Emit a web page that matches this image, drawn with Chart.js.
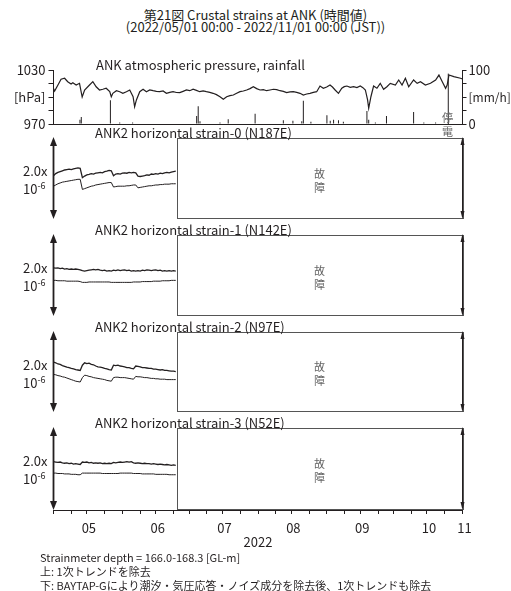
<!DOCTYPE html>
<html><head><meta charset="utf-8">
<script src="https://cdn.jsdelivr.net/npm/chart.js@4.4.1/dist/chart.umd.min.js"></script>
<style>
html,body{margin:0;padding:0;background:#fff;}
body{width:511px;height:591px;position:relative;overflow:hidden;font-family:"Noto Sans CJK JP","Noto Sans",sans-serif;color:#231f20;}
canvas{position:absolute;left:0;}
.t{position:absolute;white-space:nowrap;line-height:1;transform:translateY(-50%);z-index:5;}
.g{color:#666;font-size:11px;}
</style></head><body>
<div class="t" style="left:0;width:511px;text-align:center;top:21px;font-size:13px;line-height:12px;">第21図 Crustal strains at ANK (時間値)<br>(2022/05/01 00:00 - 2022/11/01 00:00 (JST))</div>
<div class="t" style="left:96px;top:64px;font-size:13px;">ANK atmospheric pressure, rainfall</div>
<div class="t g" style="left:442px;top:117px;">停</div>
<div class="t g" style="left:442px;top:131px;">電</div>
<div class="t" style="left:40px;top:557px;font-size:11px;">Strainmeter depth = 166.0-168.3 [GL-m]</div>
<div class="t" style="left:40px;top:571px;font-size:11px;">上: 1次トレンドを除去</div>
<div class="t" style="left:40px;top:585px;font-size:11px;">下: BAYTAP-Gにより潮汐・気圧応答・ノイズ成分を除去後、1次トレンドも除去</div>
<canvas id="cP" width="511" height="80" style="top:55px"></canvas>
<script>
// ---------------- data ----------------
// atmospheric pressure [day since 2022/05/01, hPa]
const pressureReadings = [[0,1009.5],[0.5,1006.5],[2,1013.3],[3.4,1019.7],[5,1020.8],[6.4,1017],[7.9,1014.4],[8.7,1015.9],[10.2,1013.3],[11.7,1015.2],[12.9,1000],[14,1007.8],[16.2,1013.3],[17.7,1017],[19.2,1011.4],[20.7,1007.8],[22.2,1008.6],[23.7,1009.7],[25.3,1005.9],[26,1000.3],[26.7,1004.1],[28.3,1007],[29.8,1005.9],[31.2,1004.1],[32.8,1005.9],[34.3,1007.8],[35.8,1000.3],[36.5,989.2],[37.3,996.7],[38.8,1005.9],[40.3,1008.6],[41.8,1005.9],[43.3,1007.8],[44.8,1007],[46.3,1006.3],[47.8,1005.9],[49.3,1006.7],[50.8,1004.1],[52.3,1005.2],[53.8,1005.9],[55.3,1005],[56.8,1004.8],[58.3,1006.3],[59.8,1007.8],[61.3,1007],[62.8,1008.6],[64.3,1007.4],[65.8,1005.9],[67.3,1006.7],[68.8,1005.9],[70.3,1005.2],[71.8,1004.1],[73.3,1002.6],[74.9,1000.3],[76.4,997.4],[77.9,1000.3],[79.4,1001.5],[80.9,1002.2],[82.4,1004.1],[83.9,1005.9],[85.4,1006.7],[86.9,1007.8],[88.4,1009.3],[89.9,1011.4],[91.4,1009.3],[92.9,1007.8],[94.4,1008.2],[95.9,1007],[97.4,1007.8],[98.9,1008.6],[100.4,1008.2],[101.9,1007],[103.4,1006.3],[104.9,1004.8],[106.4,1005.6],[107.9,1005.9],[109.4,1005.2],[110.9,1004.1],[112.4,1002.2],[113.9,1003.3],[115.4,1004.1],[116.9,1005.2],[118.4,1005.9],[119.9,1012.2],[121.4,1009.7],[122.9,1011.1],[124.4,1013.3],[125.5,1011.1],[126.7,1007.8],[128.2,1004.1],[129.7,1009.7],[130.8,1011.5],[132,1012.2],[133.5,1010.7],[135,1011.4],[136.5,1010.4],[138,1012.2],[139.2,1010.4],[140.3,1007.8],[141.3,996.7],[141.8,987.4],[142.8,1000.3],[144,1012.2],[145.5,1009.7],[147,1015.2],[148.5,1008.6],[150,1011.4],[151.5,1015.2],[153.8,1013.3],[155.3,1018.9],[156.8,1013.3],[158.3,1020.8],[159.8,1011.4],[162,1018.9],[163.6,1015.2],[165.1,1017],[167.3,1013.3],[169.6,1015.2],[171.9,1018.9],[173.4,1024.4],[174.9,1017],[176.4,1009.7],[177.1,1013.3],[177.9,1024.4],[180.1,1022.6],[183.1,1020.8],[184,1020]];
// hourly rainfall [day, mm/h]
const rainReadings = [[11.9,8],[12.5,13],[25.6,44],[29.8,3],[35.6,3],[64.4,15],[65.1,33],[65.9,5],[74.9,3],[78.6,9],[90.7,19],[103.4,7],[107.7,6],[111.7,5],[112.4,43],[115.8,4],[123,16],[124.5,6],[126,8],[128.2,7],[130.4,4],[141,24],[141.8,8],[144.8,3],[149.8,15],[162,22],[166.6,3],[171.9,3]];
const outageDay = 177.6;           // 停電
const outageTopHPa = 1026;
const pressureTicks = [970, 985, 1000, 1015, 1030];
const pressureTickLabels = ['970', '', '[hPa]', '', '1030'];
const rainTicks = [0, 25, 50, 75, 100];
const rainTickLabels = ['0', '', '[mm/h]', '', '100'];

// strain panels (units of 1e-6, daily from 2022/05/01)
const panelTitles = ['ANK2 horizontal strain-0 (N187E)', 'ANK2 horizontal strain-1 (N142E)', 'ANK2 horizontal strain-2 (N97E)', 'ANK2 horizontal strain-3 (N52E)'];
const strain0Upper = [0.07,0.12,0.15,0.17,0.19,0.21,0.22,0.23,0.22,0.24,0.25,0.26,0.25,0.02,0.06,0.09,0.10,0.12,0.11,0.13,0.14,0.15,0.14,0.17,0.18,0.20,0.19,0.07,0.11,0.12,0.11,0.13,0.14,0.13,0.15,0.14,0.15,0.14,0.06,0.05,0.06,0.07,0.09,0.08,0.11,0.10,0.12,0.11,0.13,0.12,0.14,0.15,0.14,0.16,0.17,0.18];
const strain0Lower = [-0.19,-0.16,-0.13,-0.11,-0.09,-0.08,-0.07,-0.06,-0.05,-0.04,-0.03,-0.02,-0.02,-0.27,-0.25,-0.23,-0.21,-0.19,-0.18,-0.16,-0.15,-0.14,-0.13,-0.12,-0.11,-0.10,-0.10,-0.21,-0.20,-0.19,-0.19,-0.19,-0.19,-0.18,-0.18,-0.17,-0.16,-0.16,-0.23,-0.22,-0.21,-0.20,-0.19,-0.18,-0.18,-0.17,-0.16,-0.16,-0.15,-0.15,-0.14,-0.14,-0.14,-0.13,-0.13,-0.13];
const strain1Upper = [0.19,0.18,0.19,0.17,0.18,0.16,0.17,0.15,0.16,0.15,0.16,0.15,0.14,0.12,0.11,0.12,0.13,0.14,0.15,0.14,0.15,0.13,0.12,0.13,0.11,0.12,0.11,0.13,0.12,0.14,0.12,0.13,0.14,0.12,0.13,0.11,0.12,0.11,0.12,0.11,0.13,0.12,0.14,0.13,0.12,0.13,0.14,0.12,0.13,0.11,0.12,0.11,0.12,0.11,0.12,0.11];
const strain1Lower = [-0.12,-0.12,-0.13,-0.13,-0.13,-0.13,-0.14,-0.14,-0.14,-0.14,-0.14,-0.14,-0.15,-0.17,-0.17,-0.17,-0.16,-0.16,-0.16,-0.16,-0.16,-0.16,-0.16,-0.16,-0.16,-0.16,-0.17,-0.17,-0.17,-0.17,-0.17,-0.17,-0.17,-0.17,-0.17,-0.17,-0.16,-0.16,-0.16,-0.16,-0.15,-0.15,-0.15,-0.15,-0.15,-0.14,-0.14,-0.14,-0.14,-0.13,-0.13,-0.13,-0.13,-0.12,-0.12,-0.12];
const strain2Upper = [0.25,0.23,0.20,0.19,0.16,0.14,0.12,0.11,0.09,0.08,0.06,0.05,0.04,0.17,0.23,0.21,0.22,0.19,0.18,0.15,0.13,0.12,0.11,0.09,0.08,0.06,0.05,0.17,0.16,0.17,0.15,0.14,0.13,0.11,0.11,0.09,0.08,0.15,0.14,0.13,0.11,0.11,0.10,0.09,0.09,0.07,0.07,0.06,0.05,0.06,0.04,0.04,0.03,0.02,0.02,0.01];
const strain2Lower = [-0.06,-0.07,-0.09,-0.10,-0.12,-0.13,-0.15,-0.17,-0.19,-0.21,-0.23,-0.24,-0.25,-0.14,-0.08,-0.09,-0.11,-0.12,-0.14,-0.15,-0.16,-0.17,-0.18,-0.19,-0.21,-0.22,-0.23,-0.14,-0.13,-0.13,-0.14,-0.14,-0.14,-0.15,-0.16,-0.17,-0.18,-0.11,-0.12,-0.12,-0.13,-0.14,-0.14,-0.15,-0.16,-0.16,-0.17,-0.17,-0.18,-0.18,-0.18,-0.19,-0.19,-0.19,-0.19,-0.19];
const strain3Upper = [0.18,0.17,0.16,0.17,0.15,0.14,0.15,0.13,0.14,0.12,0.13,0.12,0.11,0.17,0.16,0.17,0.15,0.16,0.14,0.15,0.14,0.15,0.13,0.14,0.13,0.14,0.13,0.16,0.15,0.16,0.17,0.16,0.17,0.18,0.17,0.18,0.15,0.14,0.15,0.14,0.13,0.14,0.13,0.13,0.12,0.13,0.12,0.11,0.12,0.11,0.10,0.11,0.10,0.09,0.10,0.09];
const strain3Lower = [-0.10,-0.10,-0.11,-0.11,-0.11,-0.12,-0.12,-0.12,-0.13,-0.13,-0.13,-0.14,-0.14,-0.10,-0.10,-0.10,-0.10,-0.10,-0.10,-0.10,-0.10,-0.10,-0.11,-0.11,-0.11,-0.11,-0.11,-0.11,-0.11,-0.11,-0.10,-0.10,-0.10,-0.10,-0.10,-0.10,-0.11,-0.11,-0.11,-0.11,-0.12,-0.12,-0.12,-0.12,-0.12,-0.12,-0.13,-0.13,-0.13,-0.13,-0.13,-0.13,-0.14,-0.14,-0.14,-0.14];
const faultStartDay = 55.6;        // 故障 from here on
const scaleBarLabel = '2.0x';

// x axis (days since 2022/05/01)
const monthStartDays = [0, 31, 61, 92, 123, 153, 184];
const minorTickDays = [8,15,23,39,46,54,69,76,84,100,107,115,131,138,146,161,168,176];
const monthLabelDays = [15, 46, 76, 107, 138, 168, 184];
const monthLabels = ['05', '06', '07', '08', '09', '10', '11'];
const yearLabel = '2022';

// ---------------- drawing ----------------
const INK = '#231f20';
const FONT = '"Noto Sans CJK JP","Noto Sans",sans-serif';
Chart.defaults.font.family = FONT;
Chart.defaults.font.size = 13;
Chart.defaults.color = INK;
const X_LEFT = 53.5, X_RIGHT_PAD = 48.5;

function base(padding) {
  return { responsive:false, maintainAspectRatio:false, animation:false, devicePixelRatio:1, events:[],
    layout:{ padding }, plugins:{ legend:{display:false}, tooltip:{enabled:false}, title:{display:false} } };
}

// pressure / rainfall panel
(function(){
  const o = base({ top:15, bottom:11, left:0, right:0 });
  o.scales = {
    x: { type:'linear', min:0, max:184, offset:false, grid:{display:false, offset:false}, ticks:{display:false},
         border:{display:true, color:INK, width:1}, afterFit:s=>{ s.height = 0; } },
    yP: { type:'linear', position:'left', min:970, max:1030,
          afterBuildTicks:s=>{ s.ticks = pressureTicks.map(v=>({value:v})); },
          ticks:{ autoSkip:false, padding:3, callback:v=>pressureTickLabels[pressureTicks.indexOf(v)] },
          grid:{ drawOnChartArea:false, tickLength:5, color:INK }, border:{ color:INK, width:1 },
          afterFit:s=>{ s.width = X_LEFT; } },
    yR: { type:'linear', position:'right', min:0, max:100,
          afterBuildTicks:s=>{ s.ticks = rainTicks.map(v=>({value:v})); },
          ticks:{ autoSkip:false, padding:2,
                  font:c=>({ size: c.tick && c.tick.value === 50 ? 12 : 13 }),
                  callback:v=>rainTickLabels[rainTicks.indexOf(v)] },
          grid:{ drawOnChartArea:false, tickLength:4, color:INK }, border:{ color:INK, width:1 },
          afterFit:s=>{ s.width = X_RIGHT_PAD; } }
  };
  new Chart(document.getElementById('cP'), {
    type:'bar',
    data:{ datasets:[
      { type:'line', yAxisID:'yP', data:pressureReadings.map(([d,p])=>({x:d,y:p})), borderColor:INK, borderWidth:1.2, pointRadius:0, tension:0 },
      { type:'line', yAxisID:'yP', data:[{x:outageDay,y:970},{x:outageDay,y:outageTopHPa}], borderColor:INK, borderWidth:1, pointRadius:0 },
      { type:'bar', yAxisID:'yR', data:rainReadings.map(([d,r])=>({x:d,y:r})), backgroundColor:INK, barThickness:1, maxBarThickness:1, inflateAmount:0, borderWidth:0 }
    ]},
    options:o
  });
})();

// decorations for strain panels: scale-bar arrows and fault box, positioned by the scales
function arrow(ctx, x, yt, yb, lw, hw, hh) {
  ctx.lineWidth = lw; ctx.strokeStyle = INK; ctx.fillStyle = INK;
  ctx.beginPath(); ctx.moveTo(x, yt + hh - 1); ctx.lineTo(x, yb - hh + 1); ctx.stroke();
  ctx.beginPath(); ctx.moveTo(x, yt); ctx.lineTo(x - hw/2, yt + hh); ctx.lineTo(x + hw/2, yt + hh); ctx.closePath(); ctx.fill();
  ctx.beginPath(); ctx.moveTo(x, yb); ctx.lineTo(x - hw/2, yb - hh); ctx.lineTo(x + hw/2, yb - hh); ctx.closePath(); ctx.fill();
}
const decor = {
  id:'decor',
  afterDraw(chart) {
    const { ctx, scales:{ x, y } } = chart;
    const yt = y.getPixelForValue(1), yb = y.getPixelForValue(-1);
    const bx0 = Math.round(x.getPixelForValue(faultStartDay)) + 0.5;
    const bx1 = Math.round(x.getPixelForValue(x.max)) + 0.5;
    ctx.save();
    ctx.strokeStyle = '#555'; ctx.lineWidth = 1;
    ctx.strokeRect(bx0, Math.round(yt) + 0.5, bx1 - bx0, Math.round(yb - yt) - 1);
    arrow(ctx, x.getPixelForValue(x.min), yt - 1, yb, 1.8, 7, 9);
    arrow(ctx, x.getPixelForValue(x.max), yt - 1, yb, 1, 4, 8);
    ctx.restore();
  }
};

const upper = [strain0Upper, strain1Upper, strain2Upper, strain3Upper];
const lower = [strain0Lower, strain1Lower, strain2Lower, strain3Lower];
const panelTop = [138, 235, 332, 428], panelBottom = [219, 316, 412, 510];
const PAD = 6, XAXIS_H = 40;

panelTitles.forEach((title, k) => {
  const T = panelTop[k], B = panelBottom[k], last = k === panelTitles.length - 1;
  const cv = document.createElement('canvas');
  const h = (B - T) + PAD + (last ? XAXIS_H : PAD);
  cv.width = 511; cv.height = h; cv.style.top = (T - PAD) + 'px';
  document.body.appendChild(cv);

  const add = (html, css) => { const d = document.createElement('div'); d.className = 't'; d.style.cssText = css; d.innerHTML = html; document.body.appendChild(d); };
  add(title, `left:95px;top:${T - 6}px;font-size:13px;`);
  add(`${scaleBarLabel}<br>10<sup style="font-size:9px;vertical-align:5px;">-6</sup>`, `left:23px;top:${T + 41}px;font-size:13px;line-height:15px;`);
  add('故<br>障', `left:314px;top:${(T + B) / 2 + 1}px;font-size:11px;line-height:14px;color:#666;`);

  const o = base({ top:PAD, bottom: last ? 0 : PAD, left: X_LEFT, right: X_RIGHT_PAD });
  o.scales = {
    x: last ? {
      type:'linear', min:0, max:184,
      afterBuildTicks:s=>{ s.ticks = monthStartDays.concat(minorTickDays).sort((a,b)=>a-b).map(v=>({value:v})); },
      ticks:{ autoSkip:false, maxRotation:0, padding:6, labelOffset:2,
              callback:v=>{ const i = monthLabelDays.indexOf(v); return i >= 0 ? monthLabels[i] : ''; } },
      grid:{ drawOnChartArea:false, tickLength:4, color:INK, lineWidth:1 },
      border:{ display:true, color:INK, width:1 },
      title:{ display:true, text:yearLabel, padding:{top:0,bottom:0}, font:{size:13} },
      afterFit:s=>{ s.height = XAXIS_H; }
    } : { type:'linear', min:0, max:184, display:false },
    y: { type:'linear', min:-1, max:1, display:false }
  };
  new Chart(cv, {
    type:'line',
    data:{ datasets:[
      { data:upper[k].map((v,i)=>({x:i,y:v})), borderColor:INK, borderWidth:1.3, pointRadius:0, tension:0 },
      { data:lower[k].map((v,i)=>({x:i,y:v})), borderColor:INK, borderWidth:1, pointRadius:0, tension:0 }
    ]},
    options:o,
    plugins:[decor]
  });
});
</script>
</body></html>
